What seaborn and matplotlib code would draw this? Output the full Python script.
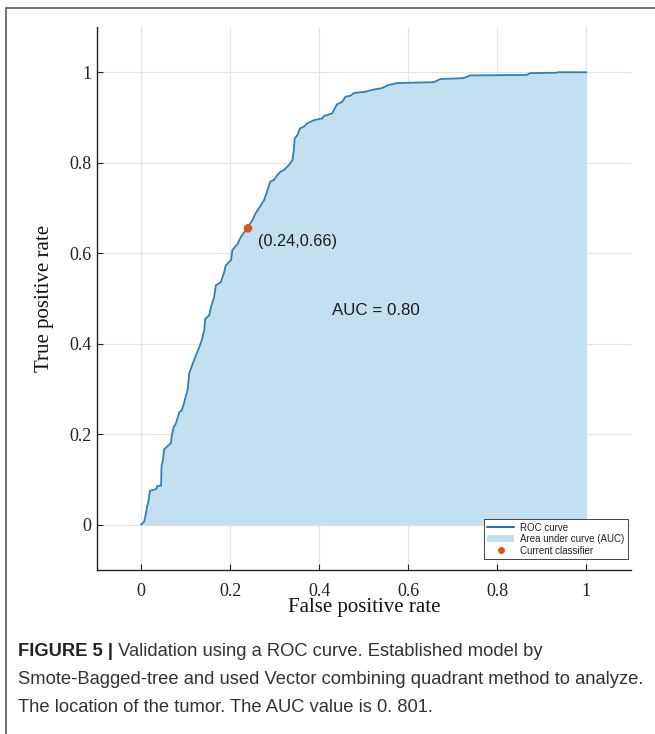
import matplotlib
matplotlib.use("Agg")
import matplotlib.pyplot as plt
import seaborn as sns
import pandas as pd
from matplotlib.lines import Line2D
from matplotlib.patches import Patch

# ---------------- data ----------------
fpr = [0.0, 0.007, 0.011, 0.013, 0.016, 0.020, 0.034, 0.037, 0.045, 0.046, 0.049,
       0.052, 0.060, 0.067, 0.069, 0.073, 0.078, 0.086, 0.091, 0.096, 0.101, 0.105,
       0.108, 0.116, 0.123, 0.131, 0.136, 0.142, 0.144, 0.153, 0.157, 0.164, 0.168,
       0.179, 0.187, 0.190, 0.202, 0.205, 0.217, 0.224, 0.235, 0.250, 0.257, 0.269,
       0.276, 0.284, 0.290, 0.298, 0.306, 0.313, 0.321, 0.332, 0.340, 0.343, 0.345,
       0.351, 0.357, 0.366, 0.373, 0.388, 0.407, 0.410, 0.429, 0.437, 0.440, 0.452,
       0.459, 0.470, 0.478, 0.504, 0.519, 0.541, 0.556, 0.575, 0.612, 0.657, 0.672,
       0.724, 0.739, 0.866, 0.873, 0.933, 0.936, 1.0]
tpr = [0.0, 0.007, 0.024, 0.038, 0.049, 0.075, 0.079, 0.086, 0.086, 0.131, 0.142,
       0.167, 0.174, 0.180, 0.197, 0.215, 0.223, 0.249, 0.252, 0.267, 0.286, 0.300,
       0.334, 0.356, 0.374, 0.393, 0.407, 0.430, 0.455, 0.463, 0.481, 0.503, 0.529,
       0.536, 0.559, 0.573, 0.585, 0.607, 0.621, 0.636, 0.651, 0.673, 0.688, 0.706,
       0.717, 0.739, 0.758, 0.762, 0.773, 0.780, 0.784, 0.795, 0.806, 0.828, 0.854,
       0.861, 0.876, 0.880, 0.887, 0.894, 0.898, 0.903, 0.909, 0.924, 0.929, 0.935,
       0.946, 0.948, 0.954, 0.957, 0.961, 0.965, 0.972, 0.976, 0.977, 0.978, 0.985,
       0.987, 0.993, 0.994, 0.998, 0.999, 1.0, 1.0]
classifier_point = [0.24, 0.655]
classifier_label = "(0.24,0.66)"
auc_label = "AUC = 0.80"
x_ticks = [0, 0.2, 0.4, 0.6, 0.8, 1]
y_ticks = [0, 0.2, 0.4, 0.6, 0.8, 1]
tick_labels = ["0", "0.2", "0.4", "0.6", "0.8", "1"]
legend_labels = ["ROC curve", "Area under curve (AUC)", "Current classifier"]
caption_bold = "FIGURE 5 |"
caption_lines = [
    " Validation using a ROC curve. Established model by",
    "Smote-Bagged-tree and used Vector combining quadrant method to analyze.",
    "The location of the tumor. The AUC value is 0. 801.",
]

LINE_C = "#2f7fb8"
FILL_C = "#c3e0f0"
DOT_C = "#d9541a"
GRID_C = "#e4e4e4"
SERIF = ["Liberation Serif", "DejaVu Serif"]
SANS = ["Liberation Sans", "DejaVu Sans"]

sns.set_theme(style="white")
plt.rcParams["font.family"] = SANS

W, H = 655, 734
fig = plt.figure(figsize=(W / 100, H / 100), dpi=100)
ax_l, ax_r, ax_t, ax_b = 96.5, 631, 27, 570
ax = fig.add_axes([ax_l / W, 1 - ax_b / H, (ax_r - ax_l) / W, (ax_b - ax_t) / H])

df = pd.DataFrame({"fpr": fpr, "tpr": tpr})
ax.fill_between(df["fpr"], 0, df["tpr"], color=FILL_C, lw=0, zorder=2)
sns.lineplot(data=df, x="fpr", y="tpr", sort=False, estimator=None, color=LINE_C,
             lw=1.3, ax=ax, zorder=3)
pt = pd.DataFrame({"x": [classifier_point[0]], "y": [classifier_point[1]]})
sns.scatterplot(data=pt, x="x", y="y", color=DOT_C, s=38, edgecolor="none", ax=ax, zorder=4)

ax.text(0.262, 0.625, classifier_label, fontsize=11.7, va="center", ha="left",
        color="#1a1a1a", family=SANS, zorder=5)
ax.text(0.428, 0.474, auc_label, fontsize=12.2, va="center", ha="left",
        color="#1a1a1a", family=SANS, zorder=5)

ax.set_xlim(-0.1, 1.1)
ax.set_ylim(-0.1, 1.1)
ax.set_xticks(x_ticks)
ax.set_yticks(y_ticks)
ax.set_xticklabels(tick_labels, family=SERIF, fontsize=13)
ax.set_yticklabels(tick_labels, family=SERIF, fontsize=13)
ax.tick_params(axis="x", direction="in", length=4, width=0.8, pad=9, colors="#222222", bottom=True)
ax.tick_params(axis="y", direction="in", length=4, width=0.8, pad=3.5, colors="#222222", left=True)
ax.grid(True, color=GRID_C, lw=0.9)
ax.set_axisbelow(True)
for s in ["top", "right"]:
    ax.spines[s].set_visible(False)
for s in ["left", "bottom"]:
    ax.spines[s].set_color("#222222")
    ax.spines[s].set_linewidth(1.0)

ax.set_xlabel("False positive rate", family=SERIF, fontsize=15, color="#111111")
ax.set_ylabel("True positive rate", family=SERIF, fontsize=15, color="#111111")
ax.xaxis.set_label_coords(0.5, -0.052)
ax.xaxis.label.set_va("top")
ax.yaxis.set_label_coords(-0.079, 0.5)

handles = [Line2D([0], [0], color="#1f6fb5", lw=1.5),
           Patch(facecolor=FILL_C, edgecolor="none"),
           Line2D([0], [0], marker="o", color="none", markerfacecolor=DOT_C,
                  markeredgecolor="none", markersize=5)]
leg = ax.legend(handles, legend_labels, loc="lower right",
                bbox_to_anchor=(0.994, 0.02), borderaxespad=0, fontsize=7,
                frameon=True, fancybox=False, framealpha=1, handlelength=2.8,
                handletextpad=0.6, borderpad=0.35, labelspacing=0.15)
leg.get_frame().set_edgecolor("#444444")
leg.get_frame().set_linewidth(0.7)
for t in leg.get_texts():
    t.set_color("#222222")

# figure border (top and left)
fig.add_artist(Line2D([6 / W, 6 / W], [0, 1 - 8 / H], transform=fig.transFigure,
                      color="#666666", lw=1.3))
fig.add_artist(Line2D([6 / W, 1], [1 - 8 / H, 1 - 8 / H], transform=fig.transFigure,
                      color="#666666", lw=1.3))

# caption: size chosen so that the longest line spans ~630 px like the reference
fig.canvas.draw()
renderer = fig.canvas.get_renderer()
probe = fig.text(0, 0, caption_lines[1], fontsize=10, family=SANS)
pw = probe.get_window_extent(renderer).width
probe.remove()
cap_fs = 10 * 628 / pw
x0 = 18 / W
ys = [652, 680, 707]
tb = fig.text(x0, 1 - ys[0] / H, caption_bold, fontsize=cap_fs, fontweight="bold",
              va="center", ha="left", family=SANS, color="#222222")
bb = tb.get_window_extent(renderer)
fig.text(bb.x1 / W, 1 - ys[0] / H, caption_lines[0], fontsize=cap_fs, va="center",
         ha="left", family=SANS, color="#333333")
for yy, line in zip(ys[1:], caption_lines[1:]):
    fig.text(x0, 1 - yy / H, line, fontsize=cap_fs, va="center", ha="left",
             family=SANS, color="#333333")

fig.savefig("out.png", dpi=100)
